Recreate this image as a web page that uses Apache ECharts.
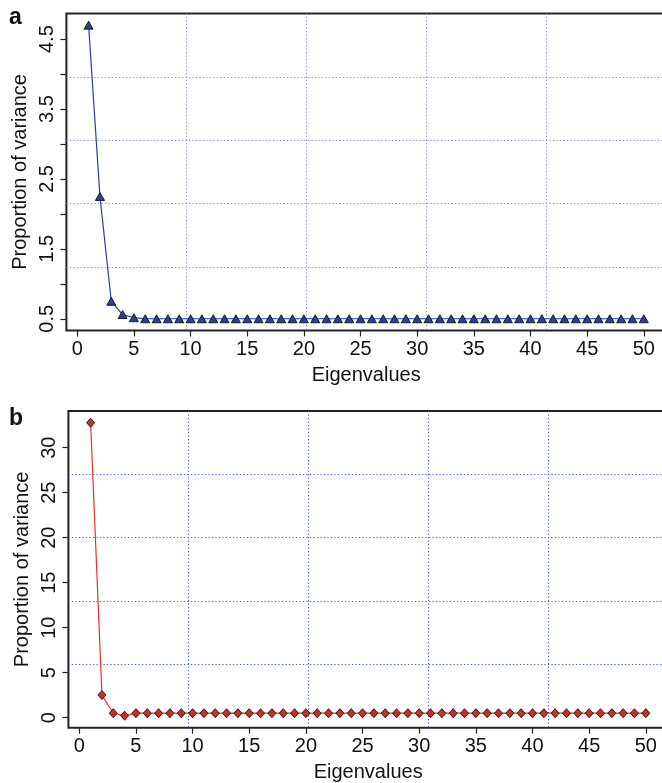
<!DOCTYPE html>
<html>
<head>
<meta charset="utf-8">
<script src="https://cdn.jsdelivr.net/npm/echarts@6/dist/echarts.min.js"></script>
<style>
  html, body { margin: 0; padding: 0; background: #fff; }
  #chart { width: 662px; height: 783px; }
</style>
</head>
<body>
<div id="chart"></div>
<script>
// ---------------- data ----------------
const eigenIndex = [1,2,3,4,5,6,7,8,9,10,11,12,13,14,15,16,17,18,19,20,21,22,23,24,25,
                    26,27,28,29,30,31,32,33,34,35,36,37,38,39,40,41,42,43,44,45,46,47,48,49,50];
const varianceA = [4.70,2.25,0.75,0.56,0.515,0.50,0.50,0.50,0.50,0.50,0.50,0.50,0.50,0.50,0.50,
                   0.50,0.50,0.50,0.50,0.50,0.50,0.50,0.50,0.50,0.50,0.50,0.50,0.50,0.50,0.50,
                   0.50,0.50,0.50,0.50,0.50,0.50,0.50,0.50,0.50,0.50,0.50,0.50,0.50,0.50,0.50,
                   0.50,0.50,0.50,0.50,0.50];
const varianceB = [32.78,2.52,0.50,0.22,0.50,0.50,0.50,0.50,0.50,0.50,0.50,0.50,0.50,0.50,0.50,
                   0.50,0.50,0.50,0.50,0.50,0.50,0.50,0.50,0.50,0.50,0.50,0.50,0.50,0.50,0.50,
                   0.50,0.50,0.50,0.50,0.50,0.50,0.50,0.50,0.50,0.50,0.50,0.50,0.50,0.50,0.50,
                   0.50,0.50,0.50,0.50,0.50];
const xTicks = [0,5,10,15,20,25,30,35,40,45,50];
const yTicksA = [0.5,1,1.5,2,2.5,3,3.5,4,4.5];
const yLabelsA = [0.5,1.5,2.5,3.5,4.5];
const yTicksB = [0,5,10,15,20,25,30];
const xTitle = 'Eigenvalues';
const yTitle = 'Proportion of variance';

// ---------------- layout ----------------
const FONT = "'Liberation Sans', Arial, Helvetica, sans-serif";
const panels = [
  { box: {left: 66.4, top: 13.4, width: 599.6, height: 317.1},
    usrX: [-0.96, 51.96], usrY: [0.332, 4.868],
    data: varianceA, yTicks: yTicksA, yLabels: yLabelsA,
    line: '#2b3f9e', fill: '#2a3f9e', grid: '#8490d8',
    symbol: 'triangle', symbolSize: [9, 8], letter: 'a', letterY: 6 },
  { box: {left: 68.4, top: 411, width: 599.6, height: 316.7},
    usrX: [-0.96, 51.96], usrY: [-1.11, 34.08],
    data: varianceB, yTicks: yTicksB, yLabels: yTicksB,
    line: '#e3312b', fill: '#d42a22', grid: '#4460d8',
    symbol: 'diamond', symbolSize: [8, 9], letter: 'b', letterY: 407 }
];

const grids = [], xAxes = [], yAxes = [], series = [], graphics = [];
const textStyleBase = { color: '#111', fontSize: 20, fontFamily: FONT };

panels.forEach((p, pi) => {
  const b = p.box;
  const xpix = v => b.left + (v - p.usrX[0]) / (p.usrX[1] - p.usrX[0]) * b.width;
  const ypix = v => b.top + b.height - (v - p.usrY[0]) / (p.usrY[1] - p.usrY[0]) * b.height;
  const gBase = grids.length;
  // grid A: plotting region (box)
  grids.push({ left: b.left, top: b.top, width: b.width, height: b.height, show: true,
               borderColor: '#222', borderWidth: 2, backgroundColor: 'transparent',
               containLabel: false, outerBoundsMode: 'none' });
  // grid Bx: x tick range
  const x0 = xpix(xTicks[0]), x1 = xpix(xTicks[xTicks.length - 1]);
  grids.push({ left: x0, top: b.top, width: x1 - x0, height: b.height, show: false,
               containLabel: false, outerBoundsMode: 'none' });
  // grid By: y tick range
  const yt = p.yTicks;
  const yTop = ypix(yt[yt.length - 1]), yBot = ypix(yt[0]);
  grids.push({ left: b.left, top: yTop, width: b.width, height: yBot - yTop, show: false,
               containLabel: false, outerBoundsMode: 'none' });

  const gridIntX = (p.usrX[1] - p.usrX[0]) / 5;
  const gridIntY = (p.usrY[1] - p.usrY[0]) / 5;
  const dotted = { color: p.grid, width: 1, type: [1.3, 2.2] };

  // axes for grid A
  xAxes.push({ gridIndex: gBase, type: 'value', min: p.usrX[0], max: p.usrX[1], interval: gridIntX,
    axisLine: {show: false}, axisTick: {show: false}, axisLabel: {show: false},
    splitLine: {show: true, showMinLine: false, showMaxLine: false, lineStyle: dotted},
    name: xTitle, nameLocation: 'middle', nameGap: 35, nameTextStyle: textStyleBase });
  yAxes.push({ gridIndex: gBase, type: 'value', min: p.usrY[0], max: p.usrY[1], interval: gridIntY,
    axisLine: {show: false}, axisTick: {show: false}, axisLabel: {show: false},
    splitLine: {show: true, showMinLine: false, showMaxLine: false, lineStyle: dotted},
    name: yTitle, nameLocation: 'middle', nameGap: 36, nameTextStyle: textStyleBase });
  // axes for grid Bx
  xAxes.push({ gridIndex: gBase + 1, type: 'value', min: xTicks[0], max: xTicks[xTicks.length - 1],
    interval: xTicks[1] - xTicks[0],
    axisLine: {show: false},
    axisTick: {show: true, inside: false, length: 6, lineStyle: {color: '#222', width: 1.2}},
    axisLabel: {show: true, margin: 9, ...textStyleBase},
    splitLine: {show: false} });
  yAxes.push({ gridIndex: gBase + 1, type: 'value', show: false, min: 0, max: 1 });
  // axes for grid By
  xAxes.push({ gridIndex: gBase + 2, type: 'value', show: false, min: 0, max: 1 });
  yAxes.push({ gridIndex: gBase + 2, type: 'value', min: yt[0], max: yt[yt.length - 1],
    interval: yt[1] - yt[0],
    axisLine: {show: false},
    axisTick: {show: true, inside: false, length: 6, lineStyle: {color: '#222', width: 1.2}},
    axisLabel: {show: true, margin: 9, rotate: 90, ...textStyleBase,
      formatter: v => (p.yLabels.some(l => Math.abs(l - v) < 1e-6) ? String(v % 1 === 0 && pi === 0 ? v.toFixed(1) : v) : '')},
    splitLine: {show: false} });

  series.push({ type: 'line', xAxisIndex: gBase, yAxisIndex: gBase,
    data: eigenIndex.map((x, i) => [x, p.data[i]]),
    symbol: p.symbol, symbolSize: p.symbolSize, clip: false, z: 5,
    lineStyle: {color: p.line, width: 1.2},
    itemStyle: {color: p.fill, borderColor: '#111', borderWidth: 0.9},
    animation: false });

  graphics.push({ type: 'text', left: 9, top: p.letterY,
    style: { text: p.letter, fontSize: 23, fontWeight: 'bold', fontFamily: FONT, fill: '#111' } });
});

const chart = echarts.init(document.getElementById('chart'), null, {renderer: 'canvas'});
chart.setOption({
  animation: false,
  backgroundColor: '#fff',
  grid: grids, xAxis: xAxes, yAxis: yAxes, series: series, graphic: graphics
});
</script>
</body>
</html>
